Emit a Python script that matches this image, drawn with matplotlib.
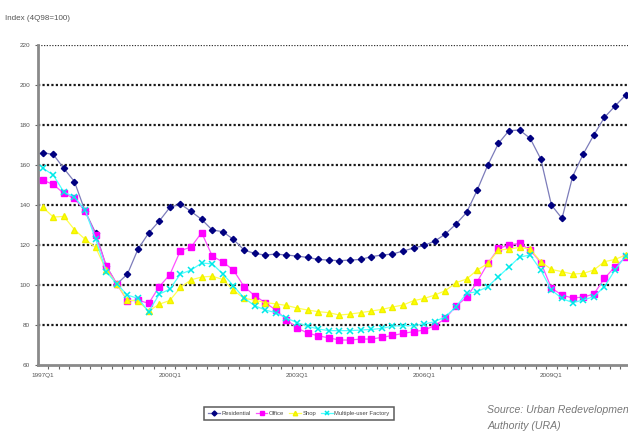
import numpy as np
import matplotlib.pyplot as plt

plt.rcParams['font.family'] = ['Liberation Sans', 'DejaVu Sans']

# quarterly index values, 1997Q1 .. 2010Q4 (4Q98 = 100)
residential = [166.2, 165.3, 158.3, 151.7, 137.0, 126.0, 109.5, 100.5, 105.5, 118.0,
               126.0, 132.0, 138.8, 140.5, 136.8, 132.8, 127.5, 126.7, 122.8, 117.5,
               115.8, 115.0, 115.5, 115.0, 114.5, 113.8, 112.8, 112.5, 112.2, 112.5,
               112.8, 114.2, 115.0, 115.5, 117.0, 118.5, 119.8, 122.0, 125.5, 130.5,
               136.3, 147.5, 160.0, 170.8, 177.2, 177.5, 173.3, 163.0, 140.0, 133.3,
               154.2, 165.5, 175.0, 183.8, 189.5, 195.0]
office = [152.5, 150.3, 145.8, 143.3, 137.0, 125.0, 109.5, 100.5, 92.0, 92.5,
          90.8, 99.2, 105.2, 117.2, 119.0, 126.2, 114.5, 111.5, 107.5, 99.2,
          94.7, 91.2, 87.5, 82.7, 78.5, 76.0, 74.6, 73.6, 72.5, 72.5,
          73.0, 73.0, 73.8, 74.8, 75.8, 76.7, 77.5, 79.7, 83.3, 89.5,
          93.8, 101.7, 110.8, 118.3, 120.0, 120.8, 117.5, 111.2, 98.5, 95.0,
          93.5, 94.0, 95.5, 103.3, 109.2, 113.8]
shop = [139.0, 134.0, 134.3, 127.7, 122.9, 118.8, 107.5, 100.5, 92.5, 92.0,
        87.0, 90.4, 92.3, 98.8, 102.6, 104.0, 104.4, 102.8, 97.4, 93.3,
        92.5, 91.2, 90.6, 89.8, 88.5, 87.5, 86.7, 86.2, 85.0, 85.5,
        86.2, 87.0, 87.8, 89.0, 90.0, 92.2, 93.3, 95.0, 97.2, 101.2,
        103.0, 107.5, 110.8, 117.5, 118.0, 118.8, 118.0, 111.7, 107.8, 106.7,
        105.5, 105.8, 107.5, 111.7, 112.8, 115.0]
factory = [158.5, 155.0, 146.5, 144.0, 137.5, 123.0, 106.7, 100.5, 95.0, 93.3,
           86.7, 95.4, 98.0, 105.5, 107.5, 111.0, 110.6, 105.6, 99.6, 93.5,
           89.7, 87.5, 86.2, 83.5, 81.2, 79.4, 78.0, 77.2, 77.2, 77.2,
           77.5, 77.8, 78.3, 79.5, 79.7, 79.7, 80.5, 81.7, 84.2, 89.2,
           95.8, 96.7, 99.2, 104.2, 109.0, 114.0, 115.0, 107.5, 97.5, 93.3,
           91.2, 92.5, 94.2, 99.2, 107.5, 114.5]

xlabels = ['1997Q1', '2000Q1', '2003Q1', '2006Q1', '2009Q1']
yticks = [60, 80, 100, 120, 140, 160, 180, 200, 220]

x = np.arange(len(residential))

fig = plt.figure(figsize=(6.28, 4.32), dpi=100)
ax = fig.add_axes([0.0605, 0.155, 0.961, 0.7407])

# dotted horizontal gridlines
for v in yticks[1:-1]:
    ax.axhline(v, color='#1a1a1a', lw=1.6, ls=(0, (1, 1)), zorder=1)
ax.axhline(220, color='#333333', lw=0.9, ls=(0, (1, 1.2)), zorder=1)

l1, = ax.plot(x, residential, color='#7c7cba', lw=0.9, marker='D', ms=3.2,
              mfc='#000080', mec='#000080', zorder=3)
l2, = ax.plot(x, office, color='#ff50ff', lw=0.9, marker='s', ms=3.9,
              mfc='#ff00ff', mec='#ff00ff', zorder=3)
l3, = ax.plot(x, shop, color='#ffff50', lw=0.9, marker='^', ms=4.0,
              mfc='#ffff00', mec='#f0f000', zorder=3)
l4, = ax.plot(x, factory, color='#50ffff', lw=0.9, marker='x', ms=3.8,
              mew=1.1, mfc='#00ffff', mec='#00e8e8', zorder=3)

ax.set_xlim(-0.44, 56.5)
ax.set_ylim(60, 220)
ax.set_yticks(yticks)
ax.set_yticklabels([str(v) for v in yticks], fontsize=4.6, color='#555555')
ax.set_xticks([0, 12, 24, 36, 48])
ax.set_xticklabels(xlabels, fontsize=4.6, color='#555555')
ax.set_xticks(np.arange(0.5, 56, 1), minor=True)
ax.tick_params(axis='x', which='major', length=0, pad=6)
ax.tick_params(axis='x', which='minor', length=3, width=0.8, color='#666666')
ax.tick_params(axis='y', length=2.5, width=0.8, color='#666666', pad=3)

for s in ['top', 'right']:
    ax.spines[s].set_visible(False)
ax.spines['left'].set_color('#8a8a8a')
ax.spines['left'].set_linewidth(2.0)
ax.spines['bottom'].set_color('#8a8a8a')
ax.spines['bottom'].set_linewidth(2.0)

fig.text(0.008, 0.958, 'Index (4Q98=100)', fontsize=5.8, color='#555555', va='center')

leg = fig.legend([l1, l2, l3, l4],
                 ['Residential', 'Office', 'Shop', 'Multiple-user Factory'],
                 loc='center', bbox_to_anchor=(0.476, 0.043), ncol=4,
                 fontsize=4.2, frameon=True, fancybox=False, handlelength=2.0,
                 columnspacing=0.8, handletextpad=0.3, borderpad=0.75,
                 markerscale=0.8)
leg.get_frame().set_edgecolor('#333333')
leg.get_frame().set_linewidth(1.1)
for t in leg.get_texts():
    t.set_color('#444444')

fig.text(0.776, 0.051, 'Source: Urban Redevelopment', fontsize=7.6,
         style='italic', color='#777777', va='center')
fig.text(0.776, 0.013, 'Authority (URA)', fontsize=7.6,
         style='italic', color='#777777', va='center')

fig.savefig('out.png', dpi=100)
